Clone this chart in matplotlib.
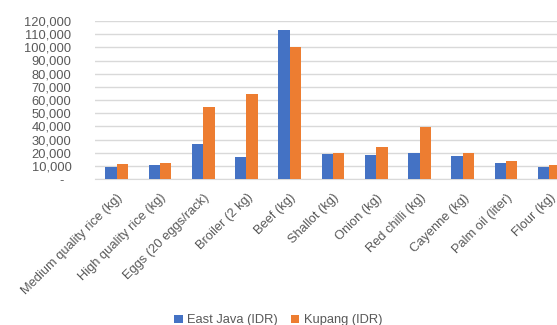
import matplotlib.pyplot as plt
import numpy as np
from matplotlib.ticker import FuncFormatter

plt.rcParams['font.family'] = ['Liberation Sans', 'DejaVu Sans']

items = ['Medium quality rice (kg)', 'High quality rice (kg)', 'Eggs (20 eggs/rack)',
         'Broiler (2 kg)', 'Beef (kg)', 'Shallot (kg)', 'Onion (kg)', 'Red chilli (kg)',
         'Cayenne (kg)', 'Palm oil (liter)', 'Flour (kg)']
east_java = [9400, 10300, 26300, 16500, 113000, 19200, 18200, 20000, 17500, 11900, 9400]
kupang = [11100, 11900, 54500, 64500, 100000, 20000, 24500, 39500, 19700, 13700, 10400]

blue = '#4472C4'
orange = '#ED7D31'
grey_txt = '#595959'

fig = plt.figure(figsize=(5.57, 3.25), dpi=100)
# plot area runs past the right edge of the canvas
ax = fig.add_axes([95 / 557, 146 / 325, 476 / 557, 158 / 325])

x = np.arange(len(items))
w = 0.263
ax.bar(x - w / 2, east_java, w, color=blue, label='East Java (IDR)', zorder=3)
ax.bar(x + w / 2, kupang, w, color=orange, label='Kupang (IDR)', zorder=3)

ax.set_xlim(-0.5, len(items) - 0.5)
ax.set_ylim(0, 120000)
ax.set_yticks(np.arange(0, 120001, 10000))
ax.yaxis.set_major_formatter(FuncFormatter(lambda v, p: '-  ' if v == 0 else f'{int(v):,}'))
ax.grid(axis='y', color='#d9d9d9', linewidth=1, zorder=0)

for s in ['top', 'right', 'left']:
    ax.spines[s].set_visible(False)
ax.spines['bottom'].set_color('#d9d9d9')

ax.tick_params(axis='y', length=0, pad=17, labelsize=9.3, labelcolor=grey_txt)
ax.tick_params(axis='x', length=0, pad=9, labelsize=9.3, labelcolor=grey_txt)
ax.set_xticks(x)
ax.set_xticklabels(items, rotation=45, ha='right', va='top', rotation_mode='anchor')

fig.legend(loc='center', bbox_to_anchor=(0.5, 0.014), ncol=2, frameon=False,
           fontsize=9.3, labelcolor=grey_txt, handlelength=0.65, handleheight=0.65,
           handletextpad=0.35, columnspacing=1.0)

fig.savefig('out.png', dpi=100)
